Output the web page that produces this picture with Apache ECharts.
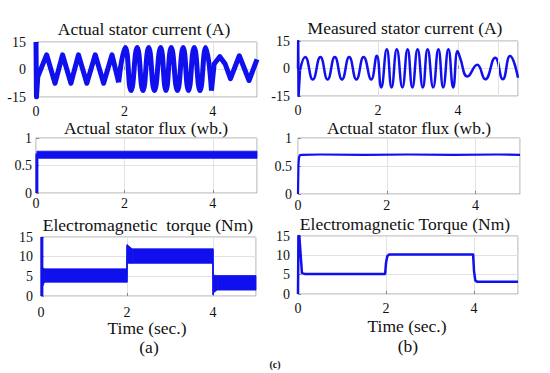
<!DOCTYPE html>
<html><head><meta charset="utf-8">
<script src="https://cdn.jsdelivr.net/npm/echarts@6/dist/echarts.min.js"></script>
<style>html,body{margin:0;padding:0;background:#fff}#c{width:550px;height:373px}</style>
</head><body><div id="c"></div>
<script>
// ---- data (time in s) ----
// (a) actual stator current: noisy segments
const ltT1 = [0, 0.01, 0.04, 0.24, 0.43, 0.60, 0.79, 0.96, 1.15, 1.34, 1.53, 1.72, 1.87];
const ltV1 = [15, -15, -4, 8, -7.5, 8, -7.5, 8, -7.5, 8, -7.5, 8, -7];
const ltT2 = [1.87, 2.02, 2.15, 2.29, 2.42, 2.55, 2.68, 2.82, 2.94, 3.06, 3.20, 3.33, 3.45, 3.58, 3.71, 3.84, 3.97];
const ltV2 = [-7, 12, -11.5, 12, -11.5, 12, -11.5, 12, -11.5, 12, -11.5, 12, -11.5, 12, -11.5, 12, -11.5];
const ltT3 = [3.97, 4.03, 4.16, 4.28, 4.40, 4.60, 4.82, 5.0];
const ltV3 = [-11.5, 3, 7, 3, -5, 7.5, -6, 5.5];
// (b) measured stator current
const rtSpikeT = [0, 0.005, 0.015, 0.05];
const rtSpikeV = [0, 15, -15, -1];
const rtT = [0.05, 0.18, 0.37, 0.56, 0.74, 0.92, 1.10, 1.28, 1.46, 1.64, 1.83, 1.97, 2.08, 2.22, 2.34, 2.47, 2.61, 2.74, 2.86, 2.99, 3.12, 3.24, 3.38, 3.51, 3.63, 3.76, 3.88, 3.99, 4.05, 4.24, 4.48, 4.68, 4.93, 5.12, 5.30, 5.50];
const rtV = [-1, 6.3, -6, 6.3, -6, 6.3, -6, 6.3, -6, 6.3, -6, 7, -10.3, 10.5, -10.3, 10.5, -10.3, 10.5, -10.3, 10.5, -10.3, 10.5, -10.3, 10.5, -10.3, 10.5, -10.3, 9.5, 6, -4.3, 2, -5.9, 5.9, -5.9, 6.8, -5];
// (a) actual stator flux: band
const lmSpikeT = [0.02, 0.02];
const lmSpikeV = [0, 0.72];
const lmT = [0.02, 5.0];
const lmLow = [0.63, 0.63];
const lmHigh = [0.76, 0.76];
// (b) stator flux
const rmT = [0, 0.01, 0.02, 0.04, 0.08, 0.5, 1.5, 2.5, 3.5, 4.5, 5];
const rmV = [0, 0.5, 0.64, 0.69, 0.7, 0.705, 0.7, 0.705, 0.7, 0.705, 0.7];
// (a) electromagnetic torque: band
const lbSpikeT = [0.02, 0.02];
const lbSpikeV = [0, 15];
const lbT = [0.04, 0.08, 1.99, 2.0, 2.01, 2.12, 3.99, 4.0, 4.01, 4.1, 5.0];
const lbLow = [2.5, 3.5, 3.5, 3.5, 8.3, 8.3, 8.3, 0.3, 0.8, 1.5, 1.5];
const lbHigh = [7.2, 6.9, 6.9, 13, 13, 12, 12, 12, 5.3, 5.2, 5.2];
// (b) electromagnetic torque
const rbT = [0, 0.01, 0.03, 0.09, 0.15, 1.98, 2.0, 2.03, 2.07, 3.98, 4.0, 4.03, 4.07, 5.0];
const rbV = [0, 15, 15, 5.4, 5.2, 5.2, 8, 9.8, 10.2, 10.2, 6, 3.5, 3.2, 3.2];

const titles = [
  ['Actual stator current (A)', 144, 29],
  ['Measured stator current (A)', 405, 28],
  ['Actual stator flux (wb.)', 146, 128],
  ['Actual stator flux (wb.)', 409, 128],
  ['Electromagnetic  torque (Nm)', 148, 225],
  ['Electromagnetic Torque (Nm)', 405, 224],
  ['Time (sec.)', 147, 328],
  ['Time (sec.)', 407, 326],
  ['(a)', 149, 347],
  ['(b)', 408, 346]
];

// ---- chart ----
const F = "'Liberation Serif', 'Times New Roman', serif";
const BLUE = '#1010ee';
const pts = (t, v) => t.map((x, i) => [x, v[i]]);

const grids = [
  {left: 36, top: 42, width: 221, height: 55},
  {left: 298, top: 41, width: 220, height: 55},
  {left: 36, top: 138, width: 221, height: 55},
  {left: 298, top: 138, width: 222, height: 56},
  {left: 41, top: 237, width: 215, height: 59},
  {left: 298, top: 236, width: 220, height: 58}
].map(g => Object.assign({show: true, borderColor: '#a8a8a8', borderWidth: 1, backgroundColor: 'transparent'}, g));

function xAx(gi, max, margin) {
  return {type: 'value', gridIndex: gi, min: 0, max: max, interval: 2,
    axisLine: {show: false},
    axisTick: {show: true, inside: true, length: 3, lineStyle: {color: '#888'}},
    axisLabel: {margin: margin, fontFamily: F, fontSize: 14, color: '#111', showMaxLabel: false},
    splitLine: {show: true, lineStyle: {color: '#e2e2e2', width: 1}}};
}
function yAx(gi, min, max, interval, margin) {
  return {type: 'value', gridIndex: gi, min: min, max: max, interval: interval,
    axisLine: {show: false},
    axisTick: {show: true, inside: true, length: 3, lineStyle: {color: '#888'}},
    axisLabel: {margin: margin, fontFamily: F, fontSize: 14, color: '#111'},
    splitLine: {show: true, lineStyle: {color: '#e2e2e2', width: 1}}};
}

function line(gi, data, w, smooth) {
  return {type: 'line', xAxisIndex: gi, yAxisIndex: gi, data: data, showSymbol: false, symbol: 'none',
    smooth: smooth || false, lineStyle: {color: BLUE, width: w, join: 'round'}, itemStyle: {color: BLUE}, z: 3};
}
function band(gi, t, low, high) {
  return {type: 'custom', xAxisIndex: gi, yAxisIndex: gi, z: 3, silent: true,
    data: t.map((x, i) => [x, low[i], high[i]]),
    encode: {x: 0, y: [1, 2]},
    renderItem: function (params, api) {
      const i = params.dataIndex;
      if (i >= t.length - 1) return null;
      const p = [
        api.coord([t[i], low[i]]), api.coord([t[i + 1], low[i + 1]]),
        api.coord([t[i + 1], high[i + 1]]), api.coord([t[i], high[i]])
      ];
      return {type: 'polygon', shape: {points: p}, style: {fill: BLUE, stroke: BLUE, lineWidth: 0.8}};
    }
  };
}

const series = [
  line(0, pts(ltT1, ltV1), 5),
  line(0, pts(ltT2, ltV2), 5, 0.5),
  line(0, pts(ltT3, ltV3), 5),
  line(1, pts(rtSpikeT, rtSpikeV), 2.5),
  line(1, pts(rtT, rtV), 2.5, 0.5),
  {type: 'line', xAxisIndex: 1, yAxisIndex: 1, data: [], z: 1,
    markLine: {silent: true, symbol: 'none', label: {show: false}, animation: false,
      lineStyle: {color: '#e2e2e2', type: 'solid', width: 1}, data: [{xAxis: 5}]}},
  line(2, pts(lmSpikeT, lmSpikeV), 3),
  band(2, lmT, lmLow, lmHigh),
  line(3, pts(rmT, rmV), 2.2),
  line(4, pts(lbSpikeT, lbSpikeV), 3),
  band(4, lbT, lbLow, lbHigh),
  line(5, pts(rbT, rbV), 2.5)
];

const graphic = titles.map(([s, x, y]) => ({type: 'text', x: x, y: y, silent: true,
  style: {text: s, fill: '#111', fontSize: 17.5, fontFamily: F, textAlign: 'center', textVerticalAlign: 'middle'}}));
graphic.push({type: 'text', x: 275, y: 364, silent: true,
  style: {text: '(c)', fill: '#111', fontSize: 10, fontWeight: 'bold', fontFamily: F, textAlign: 'center', textVerticalAlign: 'middle'}});

const chart = echarts.init(document.getElementById('c'), null, {renderer: 'svg'});
chart.setOption({
  animation: false,
  backgroundColor: '#fff',
  grid: grids,
  xAxis: [xAx(0, 5, 7), xAx(1, 5.5, 7), xAx(2, 5, 3), xAx(3, 5, 4), xAx(4, 5, 9), xAx(5, 5, 7)],
  yAxis: [yAx(0, -15, 15, 15, 10), yAx(1, -15, 15, 15, 8), yAx(2, 0, 1, 0.5, 4), yAx(3, 0, 1, 0.5, 6), yAx(4, 0, 15, 5, 8), yAx(5, 0, 15, 5, 8)],
  series: series,
  graphic: graphic
});
</script></body></html>
